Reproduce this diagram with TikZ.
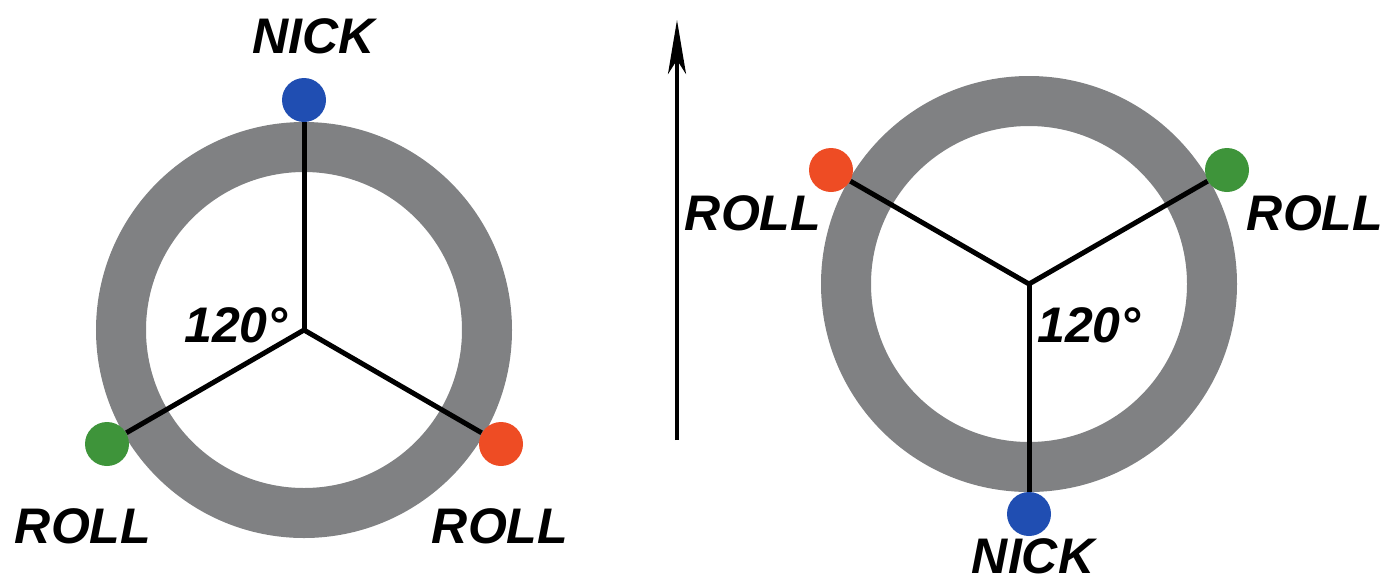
\documentclass[tikz,border=0pt]{standalone}
\usepackage{fontspec}
\setmainfont{Liberation Sans}
\usetikzlibrary{arrows.meta}
\definecolor{ringgray}{RGB}{128,129,131}
\definecolor{nickblue}{RGB}{32,78,178}
\definecolor{rollred}{RGB}{238,76,36}
\definecolor{rollgreen}{RGB}{62,148,58}
\begin{document}
\begin{tikzpicture}[
    x=0.5pt, y=-0.5pt,
    ring/.style={draw=ringgray, line width=25pt},
    spoke/.style={draw, line width=2.5pt},
    dot/.style={circle, minimum size=22pt, inner sep=0pt},
    lbl/.style={font=\fontsize{25}{30}\selectfont\bfseries\itshape, inner sep=0pt}
]
    \useasboundingbox (0,0) rectangle (1382,585);

    % left view
    \coordinate (lc) at (304,330);
    \draw [ring] (lc) circle [radius=91.5pt];
    \node [dot, fill=nickblue] (lnick) at (304,100) {};
    \node [dot, fill=rollgreen] (lrolla) at (107,444) {};
    \node [dot, fill=rollred] (lrollb) at (501,444) {};
    \draw [spoke] (lc) -- (lnick);
    \draw [spoke] (lc) -- (lrolla);
    \draw [spoke] (lc) -- (lrollb);
    \node [lbl] (lnicktxt) at (314,36) {NICK};
    \node [lbl] (lrollatxt) at (83,526) {ROLL};
    \node [lbl] (lrollbtxt) at (500,526) {ROLL};
    \node [lbl] (langle) at (236,325) {120°};

    % direction of flight
    \coordinate (ab) at (677,440);
    \coordinate (at) at (677,20);
    \draw [line width=2pt, -{Stealth[length=27pt, width=9pt, inset=7pt]}] (ab) -- (at);

    % right view
    \coordinate (rc) at (1029,284);
    \draw [ring] (rc) circle [radius=91.5pt];
    \node [dot, fill=nickblue] (rnick) at (1029,514) {};
    \node [dot, fill=rollred] (rrolla) at (831,170) {};
    \node [dot, fill=rollgreen] (rrollb) at (1227,170) {};
    \draw [spoke] (rc) -- (rnick);
    \draw [spoke] (rc) -- (rrolla);
    \draw [spoke] (rc) -- (rrollb);
    \node [lbl] (rnicktxt) at (1033,556) {NICK};
    \node [lbl] (rrollatxt) at (753,213) {ROLL};
    \node [lbl] (rrollbtxt) at (1315,213) {ROLL};
    \node [lbl] (rangle) at (1089,325) {120°};
\end{tikzpicture}
\end{document}
